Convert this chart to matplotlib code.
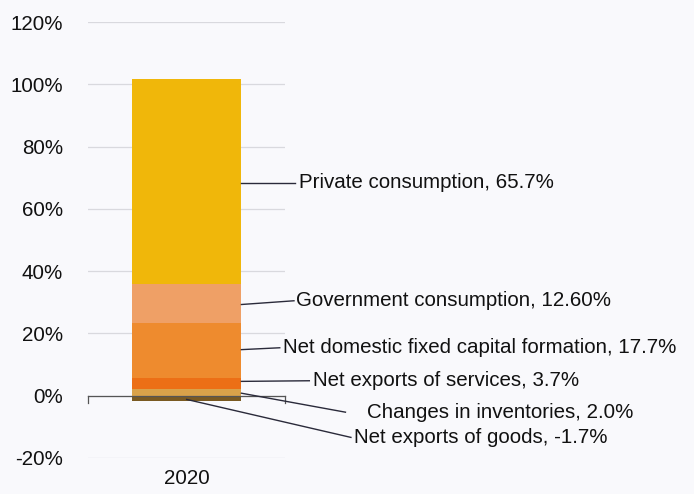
import matplotlib.pyplot as plt

plt.rcParams["font.family"] = ["Liberation Sans", "DejaVu Sans"]

year = "2020"
components = [
    "Changes in inventories",
    "Net exports of services",
    "Net domestic fixed capital formation",
    "Government consumption",
    "Private consumption",
]
shares = [2.0, 3.7, 17.7, 12.6, 65.7]
share_text = ["2.0%", "3.7%", "17.7%", "12.60%", "65.7%"]
colors = ["#d9a24a", "#ec6f16", "#ee8b2e", "#efa066", "#f0b70a"]

neg_component = "Net exports of goods"
neg_share = -1.7
neg_color = "#7a5a22"

# label anchor points: (x of leader start, y of leader start, x of leader end, y of text, x of text)
label_pos = {
    "Private consumption": (0.5, 68.5, 0.99, 68.5, 1.03),
    "Government consumption": (0.5, 29.3, 0.98, 30.5, 1.0),
    "Net domestic fixed capital formation": (0.5, 14.8, 0.85, 15.4, 0.88),
    "Net exports of services": (0.5, 4.6, 1.12, 4.8, 1.15),
    "Changes in inventories": (0.5, 0.8, 1.45, -5.3, 1.65),
    "Net exports of goods": (0.0, -1.2, 1.5, -13.4, 1.53),
}

fs = 14.8
bg = "#f9f9fc"
fig = plt.figure(figsize=(6.94, 4.94), dpi=100, facecolor=bg)
ax = fig.add_axes([0.127, 0.073, 0.284, 0.882], facecolor=bg)

bottom = 0
for name, val, col in zip(components, shares, colors):
    ax.bar(0, val, width=1.0, bottom=bottom, color=col, zorder=2)
    bottom += val
ax.bar(0, neg_share, width=1.0, bottom=0, color=neg_color, zorder=2)

ax.set_xlim(-0.9, 0.9)
ax.set_ylim(-20, 120)
ax.set_yticks(range(-20, 121, 20))
ax.set_yticklabels([f"{v}%" for v in range(-20, 121, 20)], fontsize=fs, color="#111111")
ax.tick_params(axis="y", length=0, pad=18)
ax.set_xticks([])
for s in ax.spines.values():
    s.set_visible(False)
ax.grid(axis="y", color="#d9d9de", lw=0.9, zorder=0)

# category axis at zero with end ticks
ax.plot([-0.9, 0.9], [0, 0], color="#555555", lw=0.9, zorder=3, clip_on=False)
for xe in (-0.9, 0.9):
    ax.plot([xe, xe], [0, -2.2], color="#555555", lw=0.9, zorder=3, clip_on=False)
ax.text(0, -26.5, year, ha="center", va="center", fontsize=fs, color="#111111")

all_names = components + [neg_component]
all_text = share_text + [f"{neg_share}%"]
for name, txt in zip(all_names, all_text):
    x0, y0, x1, y1, xt = label_pos[name]
    ax.plot([x0, x1], [y0, y1], color="#2a2a3a", lw=1.0, zorder=4, clip_on=False)
    ax.text(xt, y1, f"{name}, {txt}", ha="left", va="center",
            fontsize=fs, color="#111111", clip_on=False)

fig.savefig("out.png", dpi=100, facecolor=bg)
